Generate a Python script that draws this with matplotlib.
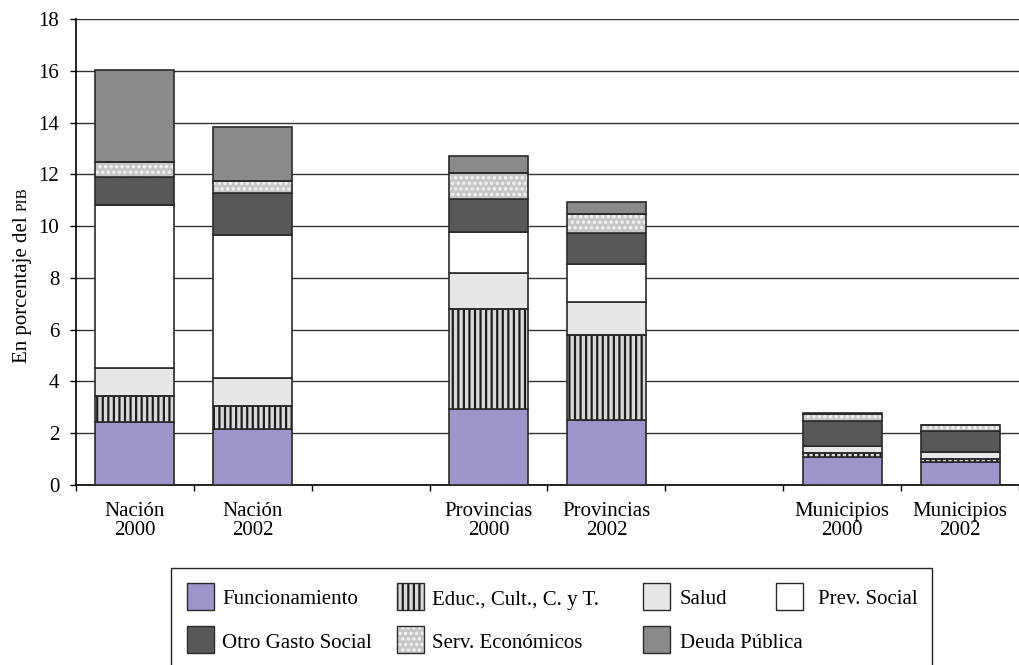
import matplotlib
matplotlib.use("Agg")
import matplotlib.pyplot as plt
from matplotlib.patches import Rectangle
import numpy as np

plt.rcParams['font.family'] = ['Liberation Serif', 'DejaVu Serif']
plt.rcParams['hatch.linewidth'] = 1.6

groups = ["Nación", "Provincias", "Municipios"]
years = ["2000", "2002"]

series = ["Funcionamiento", "Educ., Cult., C. y T.", "Salud", "Prev. Social",
          "Otro Gasto Social", "Serv. Económicos", "Deuda Pública"]

# order of bars: Nación 2000, Nación 2002, Provincias 2000, Provincias 2002, Municipios 2000, Municipios 2002
funcionamiento = [2.42, 2.15, 2.92, 2.51, 1.07, 0.88]
educ = [1.02, 0.90, 3.87, 3.27, 0.15, 0.14]
salud = [1.08, 1.07, 1.39, 1.29, 0.27, 0.24]
prev_social = [6.31, 5.54, 1.58, 1.47, 0.02, 0.02]
otro_gasto = [1.07, 1.63, 1.29, 1.18, 0.97, 0.81]
serv_econ = [0.56, 0.44, 0.99, 0.73, 0.27, 0.21]
deuda = [3.57, 2.11, 0.68, 0.48, 0.02, 0.03]

values = [funcionamiento, educ, salud, prev_social, otro_gasto, serv_econ, deuda]

# style: (facecolor, hatch, hatchcolor)
styles = [
    ("#9b95c9", None, None),
    ("#d9d9d9", "|||", "#1e1e1e"),
    ("#e6e7e8", None, None),
    ("#ffffff", None, None),
    ("#58585a", None, None),
    ("#c6c6c6", "...", "#f4f4f4"),
    ("#8a8a8a", None, None),
]
edge = "#2a2a2a"

W, H = 1020, 665
fig = plt.figure(figsize=(W / 100, H / 100), dpi=100)
ax = fig.add_axes([76 / W, 1 - 485 / H, 943 / W, 466 / H])

n_slots = len(groups) * 3 - 1
pos = []
labels = []
for gi, g in enumerate(groups):
    for yi, y in enumerate(years):
        pos.append(gi * 3 + yi + 0.5)
        labels.append(f"{g}\n{y}")
pos = np.array(pos)

width = 0.67
bottom = np.zeros(len(pos))
for vals, (fc, hatch, hc), name in zip(values, styles, series):
    vals = np.array(vals)
    if hatch:
        ax.bar(pos, vals, width, bottom=bottom, color=fc, hatch=hatch,
               edgecolor=hc, linewidth=0, zorder=3)
        ax.bar(pos, vals, width, bottom=bottom, fill=False,
               edgecolor=edge, linewidth=1.2, zorder=4)
    else:
        ax.bar(pos, vals, width, bottom=bottom, color=fc,
               edgecolor=edge, linewidth=1.2, zorder=3, label=name)
    bottom = bottom + vals

ax.set_xlim(0, n_slots)
ax.set_ylim(0, 18)
ax.set_yticks(np.arange(0, 19, 2))
ax.yaxis.grid(True, color="#333333", linewidth=1.0, zorder=0)
ax.set_axisbelow(True)

ax.set_xticks(pos)
ax.set_xticklabels(labels, fontsize=15, linespacing=0.95)
ax.tick_params(axis='x', length=0, pad=12.5)
ax.set_xticks(np.arange(0, n_slots + 1), minor=True)
ax.tick_params(axis='x', which='minor', length=4, width=1.0, direction='out')
ax.tick_params(axis='y', labelsize=15, length=4, width=1.0, pad=8)

for s in ['top', 'right']:
    ax.spines[s].set_visible(False)
ax.spines['left'].set_linewidth(1.2)
ax.spines['bottom'].set_linewidth(1.2)

# y label with small-caps "PIB"
t1 = fig.text(27 / W, 1 - 363 / H, "En porcentaje del ", fontsize=15,
              rotation=90, rotation_mode='anchor', ha='left', va='baseline')
fig.canvas.draw()
bb = t1.get_window_extent(renderer=fig.canvas.get_renderer())
fig.text(27 / W, bb.y1 / H, "PIB", fontsize=11, rotation=90,
         rotation_mode='anchor', ha='left', va='baseline')

# legend (drawn manually, Excel-like layout)
fig.add_artist(Rectangle((171 / W, -0.02), (932 - 171) / W, 0.02 + (665 - 568) / H,
                         transform=fig.transFigure, fill=False,
                         edgecolor="#222222", linewidth=1.0))
leg_layout = [  # (series index, patch x, text x, row)
    (0, 187, 222, 0), (1, 397, 432, 0), (2, 643, 680, 0), (3, 776, 818, 0),
    (4, 187, 222, 1), (5, 397, 432, 1), (6, 643, 680, 1),
]
row_top = [583, 626]
size = 27
for si, px, tx, r in leg_layout:
    fc, hatch, hc = styles[si]
    x0 = px / W
    y0 = 1 - (row_top[r] + size) / H
    w = size / W
    h = size / H
    if hatch:
        fig.add_artist(Rectangle((x0, y0), w, h, transform=fig.transFigure,
                                 facecolor=fc, hatch=hatch, edgecolor=hc, linewidth=0))
        fig.add_artist(Rectangle((x0, y0), w, h, transform=fig.transFigure,
                                 fill=False, edgecolor=edge, linewidth=1.0))
    else:
        fig.add_artist(Rectangle((x0, y0), w, h, transform=fig.transFigure,
                                 facecolor=fc, edgecolor=edge, linewidth=1.0))
    fig.text(tx / W, 1 - (row_top[r] + size / 2 + 8) / H, series[si],
             fontsize=15, ha='left', va='baseline')

fig.savefig("out.png", dpi=100)
